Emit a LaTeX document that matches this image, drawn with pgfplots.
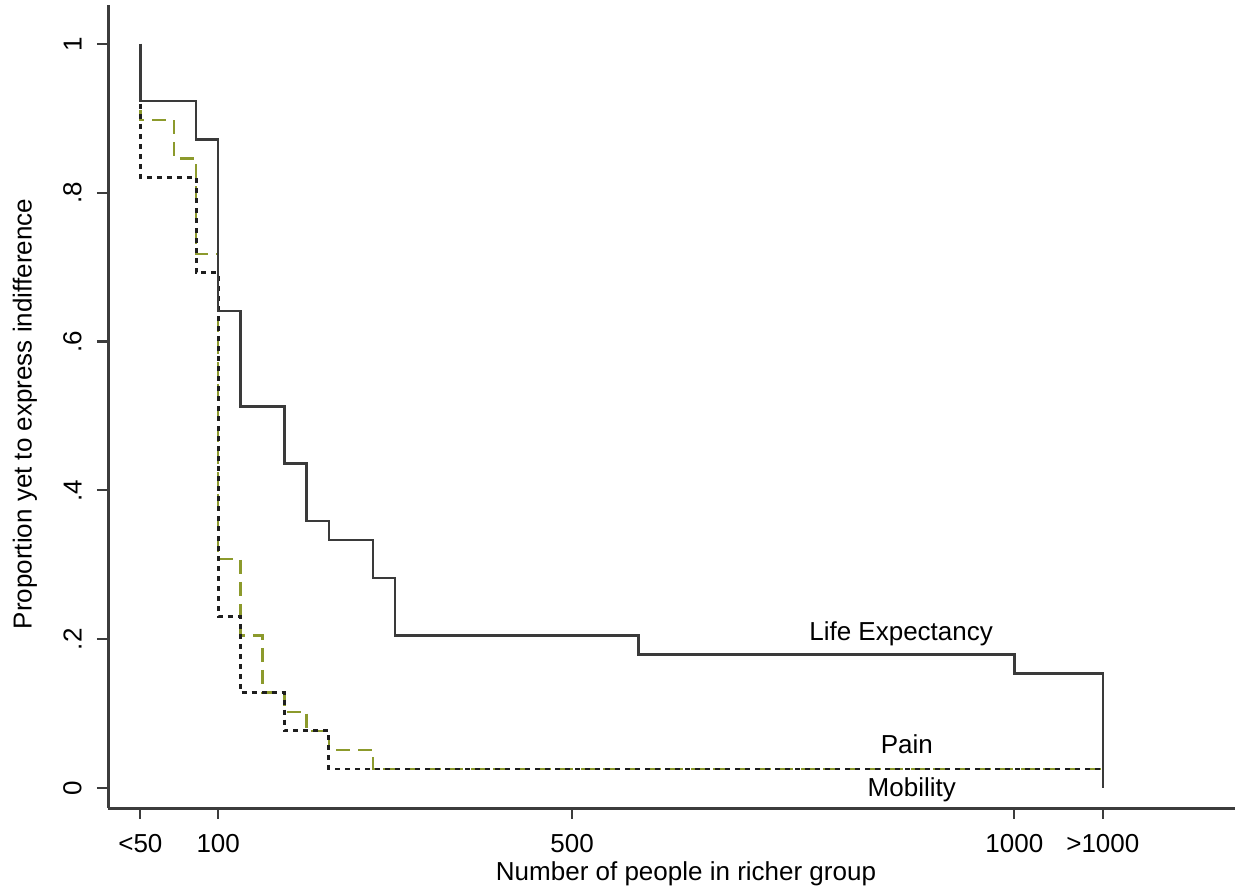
\documentclass[border=0pt]{standalone}
\usepackage{fontspec}
\setmainfont{Liberation Sans}
\usepackage{pgfplots}
\pgfplotsset{compat=1.18}

\definecolor{axiscol}{HTML}{3C3C3C}
\definecolor{lecol}{HTML}{3A3A3A}
\definecolor{paincol}{HTML}{8C9A2C}
\definecolor{mobcol}{HTML}{1E1E1E}

% Kaplan-Meier style step data: value held from x until the next x
% (x = number of people; <50 plotted at 12, >1000 plotted at 1100)
\begin{document}
\begin{tikzpicture}[font=\fontsize{13bp}{15bp}\selectfont]
\path[use as bounding box] (0,0) rectangle (617.5bp,445.5bp);
\begin{axis}[
  at={(54bp,41.5bp)}, anchor=south west,
  scale only axis, width=578bp, height=401.5bp,
  xmin=-24.6, xmax=1282.2, ymin=-0.0268, ymax=1.0523,
  axis x line*=bottom, axis y line*=left,
  axis line style={line width=1.5bp, draw=axiscol},
  tick style={line width=1.1bp, draw=axiscol},
  tick align=outside, major tick length=5.5bp,
  xtick={12,100,500,1000,1100},
  xticklabels={\textless50,100,500,1000,\textgreater1000},
  ytick={0,0.2,0.4,0.6,0.8,1},
  yticklabels={0,.2,.4,.6,.8,1},
  /pgf/number format/assume math mode=true,
  xticklabel style={anchor=north, inner sep=0pt, yshift=-7.5bp},
  yticklabel style={xshift=-7.5bp, rotate=90, anchor=south, inner sep=0pt},
  xlabel={Number of people in richer group},
  ylabel={Proportion yet to express indifference},
  xlabel style={at={(axis description cs:0.5,-0.0817)}, anchor=center, inner sep=0pt},
  ylabel style={at={(axis description cs:-0.0718,0.4907)}, anchor=center, rotate=0, inner sep=0pt},
  clip=false,
]
% Pain
\addplot[const plot, draw=paincol, line width=1.2bp, dash pattern=on 7bp off 4bp] coordinates {
  (12,1) (12,0.8974) (50,0.8462) (75,0.7179) (100,0.3077) (125,0.2051)
  (150,0.1282) (175,0.1026) (200,0.0769) (225,0.0513) (275,0.0256) (1100,0.0256)
};
% Mobility
\addplot[const plot, draw=mobcol, line width=1.4bp, dash pattern=on 2.5bp off 2.5bp] coordinates {
  (12,1) (12,0.8205) (75,0.6923) (100,0.2308) (125,0.1282) (175,0.0769)
  (225,0.0256) (1100,0.0256)
};
% Life Expectancy
\addplot[const plot, draw=lecol, line width=1.25bp] coordinates {
  (12,1) (12,0.9231) (75,0.8718) (100,0.6410) (125,0.5128) (175,0.4359)
  (200,0.3590) (225,0.3333) (275,0.2821) (300,0.2051) (575,0.1795)
  (1000,0.1538) (1100,0)
};
\node[anchor=base] at (axis cs:872,0.198) {Life Expectancy};
\node[anchor=base] at (axis cs:878.5,0.047) {Pain};
\node[anchor=base] at (axis cs:884,-0.012) {Mobility};
\end{axis}
\end{tikzpicture}
\end{document}
